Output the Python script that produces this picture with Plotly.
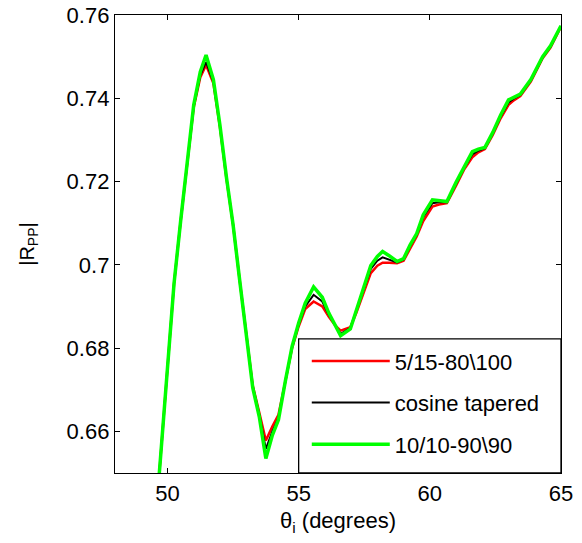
import plotly.graph_objects as go

# incidence angle (degrees)
angles = [49.5, 49.75, 50.0, 50.25, 50.5, 50.75, 51.0, 51.25, 51.47, 51.75,
          52.0, 52.25, 52.5, 52.75, 53.0, 53.25, 53.5, 53.75, 54.0, 54.23,
          54.5, 54.75, 55.0, 55.25, 55.57, 55.9, 56.15, 56.4, 56.6, 56.97,
          57.2, 57.5, 57.75, 58.0, 58.2, 58.45, 58.75, 59.0, 59.25, 59.5,
          59.75, 60.1, 60.35, 60.65, 61.0, 61.3, 61.62, 61.85, 62.1, 62.4,
          62.7, 63.0, 63.2, 63.45, 63.85, 64.3, 64.6, 65.0]

# |Rpp| for 10/10-90\90 taper (green)
rpp_green = [0.6346, 0.6549, 0.6752, 0.6955, 0.7104, 0.7244, 0.7384, 0.7463, 0.7504, 0.7445,
             0.7335, 0.7209, 0.7097, 0.6964, 0.6839, 0.6705, 0.6635, 0.6535, 0.6591, 0.6628,
             0.6723, 0.6804, 0.6860, 0.6908, 0.6947, 0.6922, 0.6884, 0.6852, 0.6830, 0.6846,
             0.6890, 0.6950, 0.6998, 0.7020, 0.7032, 0.7022, 0.7008, 0.7015, 0.7048, 0.7075,
             0.7120, 0.7156, 0.7155, 0.7152, 0.7198, 0.7236, 0.7272, 0.7278, 0.7282, 0.7318,
             0.7360, 0.7396, 0.7402, 0.7410, 0.7445, 0.7500, 0.7526, 0.7574]

# |Rpp| for cosine tapered (black)
rpp_black = [0.6346, 0.6549, 0.6752, 0.6955, 0.7104, 0.7244, 0.7380, 0.7455, 0.7487, 0.7440,
             0.7333, 0.7208, 0.7097, 0.6964, 0.6840, 0.6708, 0.6640, 0.6558, 0.6600, 0.6632,
             0.6722, 0.6802, 0.6856, 0.6900, 0.6928, 0.6912, 0.6880, 0.6853, 0.6834, 0.6848,
             0.6888, 0.6945, 0.6990, 0.7010, 0.7018, 0.7012, 0.7006, 0.7013, 0.7045, 0.7072,
             0.7115, 0.7148, 0.7150, 0.7150, 0.7195, 0.7232, 0.7265, 0.7274, 0.7280, 0.7315,
             0.7356, 0.7390, 0.7399, 0.7408, 0.7443, 0.7498, 0.7524, 0.7573]

# |Rpp| for 5/15-80\100 taper (red)
rpp_red = [0.6346, 0.6549, 0.6752, 0.6955, 0.7104, 0.7244, 0.7378, 0.7450, 0.7480, 0.7436,
           0.7330, 0.7206, 0.7096, 0.6964, 0.6841, 0.6710, 0.6645, 0.6578, 0.6612, 0.6640,
           0.6722, 0.6800, 0.6852, 0.6894, 0.6912, 0.6900, 0.6875, 0.6854, 0.6842, 0.6850,
           0.6885, 0.6935, 0.6980, 0.6998, 0.7005, 0.7005, 0.7004, 0.7010, 0.7040, 0.7068,
           0.7105, 0.7140, 0.7145, 0.7148, 0.7190, 0.7228, 0.7258, 0.7270, 0.7278, 0.7312,
           0.7352, 0.7384, 0.7395, 0.7405, 0.7440, 0.7496, 0.7522, 0.7572]

series_names = ["5/15-80\\100", "cosine tapered", "10/10-90\\90"]
series_colors = ["#ff0000", "#000000", "#00ff00"]
series_widths = [2.5, 2.0, 3.5]
series_values = [rpp_red, rpp_black, rpp_green]

x_ticks = [50, 55, 60, 65]
y_ticks = [0.66, 0.68, 0.70, 0.72, 0.74, 0.76]
y_tick_text = ["0.66", "0.68", "0.7", "0.72", "0.74", "0.76"]

FONT = "Liberation Sans, Arial, sans-serif"

fig = go.Figure()
for i, (name, col, w, vals) in enumerate(zip(series_names, series_colors, series_widths, series_values)):
    fig.add_trace(go.Scatter(x=angles, y=vals, mode="lines", name=name,
                             line=dict(color=col, width=w),
                             legendgroup=f"g{i}"))

# legend box
fig.add_shape(type="rect", xref="x", yref="y", x0=55, x1=65, y0=0.65, y1=0.6822,
              fillcolor="white", line=dict(color="black", width=1.3), layer="above")

axis_common = dict(showline=True, linecolor="black", linewidth=1.3, mirror="allticks",
                   ticks="inside", ticklen=5, tickcolor="black", tickwidth=1.3,
                   showgrid=False, zeroline=False, automargin=False,
                   tickfont=dict(family=FONT, size=22, color="black"))

fig.update_layout(
    width=582, height=543,
    margin=dict(l=115, r=21, t=15, b=70),
    paper_bgcolor="white", plot_bgcolor="white",
    showlegend=True,
    legend=dict(x=0.43, y=0.29, xanchor="left", yanchor="top",
                bgcolor="rgba(0,0,0,0)", borderwidth=0,
                font=dict(family=FONT, size=22, color="black"),
                traceorder="grouped", tracegroupgap=10, itemwidth=78),
    xaxis=dict(range=[48, 65], tickvals=x_ticks,
               title=dict(text="θ<sub>i</sub> (degrees)", font=dict(family=FONT, size=22, color="black"), standoff=8),
               **axis_common),
    yaxis=dict(range=[0.65, 0.76], tickvals=y_ticks, ticktext=y_tick_text,
               title=dict(text="|R<sub>PP</sub>|", font=dict(family=FONT, size=20, color="black"), standoff=26),
               **axis_common),
)

fig.write_html("out.html", config={"displayModeBar": False},
               post_script="document.body.style.margin='0';")
